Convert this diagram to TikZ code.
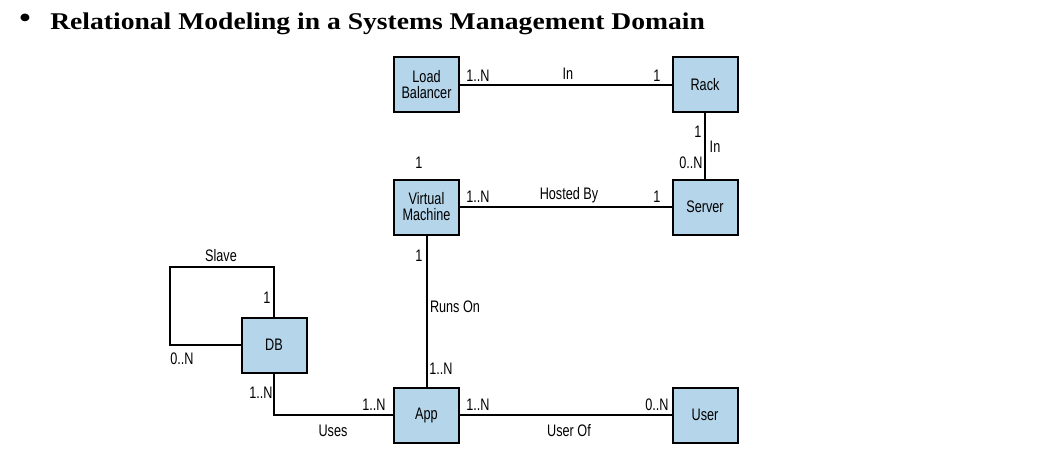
\documentclass[tikz,border=0pt]{standalone}
\usepackage{fontspec}
\usepackage{xcolor}
\usepackage{tikz}
\usetikzlibrary{positioning}
\newfontfamily\diagfont[FakeStretch=0.76]{Liberation Sans}
\newfontfamily\titlefont[FakeStretch=1.15]{Liberation Serif}
\definecolor{entblue}{RGB}{180,213,234}

\begin{document}
\begin{tikzpicture}[
	x=0.75pt, y=-0.75pt,
	every node/.style={inner sep=0pt},
	ent/.style={draw, line width=1.5pt, fill=entblue, minimum width=48.75pt, minimum height=41.25pt, align=center, font=\diagfont\fontsize{12.5}{12}\selectfont},
	lab/.style={text height=9pt, text depth=0pt, font=\diagfont\fontsize{12.5}{13}\selectfont},
	rel/.style={draw, line width=1.5pt}
	]
	\useasboundingbox (0,0) rectangle (1041,457);
	\node[font=\titlefont\fontsize{24}{24}\selectfont] (bullet) at (25,21) {•};
	\node[anchor=base west, font=\titlefont\bfseries\fontsize{18}{20}\selectfont] (title) at (50,29.5) {Relational Modeling in a Systems Management Domain};

	\node[ent] (lb) at (426.5,84.5) {Load\\Balancer};
	\node[ent] (rack) at (705,84.5) {Rack};
	\node[ent] (vm) at (426.5,207) {Virtual\\Machine};
	\node[ent] (server) at (705,207) {Server};
	\node[ent] (db) at (274,345) {DB};
	\node[ent] (app) at (426.5,415) {App};
	\node[ent] (user) at (705,415) {User};
	\coordinate (slaveCorner) at (170,267);

	\draw[rel] (lb) -- (rack);
	\draw[rel] (rack) -- (server);
	\draw[rel] (vm) -- (server);
	\draw[rel] (vm) -- (app);
	\draw[rel] (app) -- (user);
	\draw[rel] (db.south) |- (app.west);
	\draw[rel] (db.north) |- (slaveCorner) |- (db.west);

	\node[lab] (lbMany) at (478,75) {1..N};
	\node[lab] (lbIn) at (568,73) {In};
	\node[lab] (rackOne) at (657,75) {1};
	\node[lab] (rackDown) at (698,131) {1};
	\node[lab] (rackIn) at (715,146) {In};
	\node[lab] (serverUp) at (691,162) {0..N};
	\node[lab] (vmTop) at (419,162) {1};
	\node[lab] (vmMany) at (478,196) {1..N};
	\node[lab] (hosted) at (569,193) {Hosted By};
	\node[lab] (serverOne) at (657,196) {1};
	\node[lab] (vmDown) at (419,255) {1};
	\node[lab] (runsOn) at (455,306) {Runs On};
	\node[lab] (appUp) at (441,368) {1..N};
	\node[lab] (slave) at (221,255) {Slave};
	\node[lab] (dbTop) at (267,297) {1};
	\node[lab] (dbLeft) at (182,358) {0..N};
	\node[lab] (dbDown) at (261,392) {1..N};
	\node[lab] (uses) at (333,430) {Uses};
	\node[lab] (appLeft) at (374,404) {1..N};
	\node[lab] (appRight) at (478,404) {1..N};
	\node[lab] (userOf) at (569,430) {User Of};
	\node[lab] (userLeft) at (657,404) {0..N};
\end{tikzpicture}
\end{document}
